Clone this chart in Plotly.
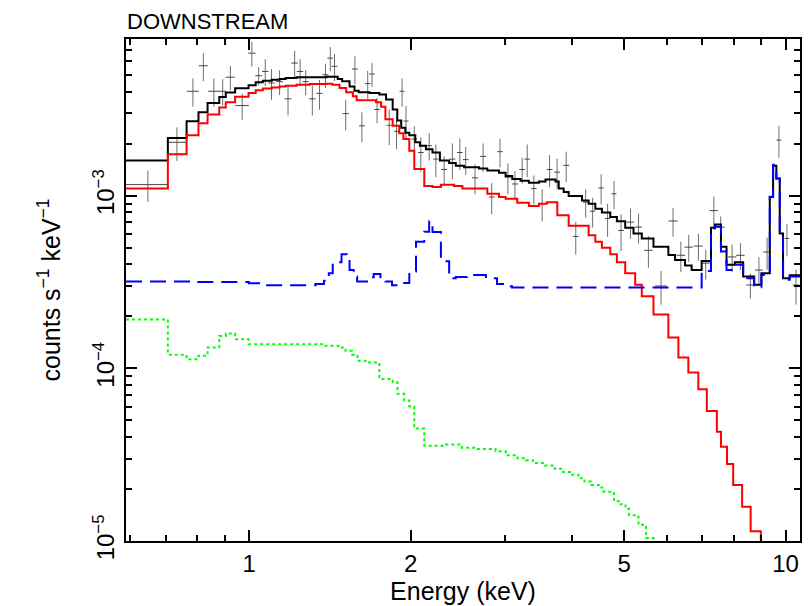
import plotly.graph_objects as go

# ---------------- data (counts s^-1 keV^-1) ----------------
data_energy = [0.647, 0.733, 0.785, 0.821, 0.859, 0.892, 0.922, 0.970, 1.011, 1.041,
               1.071, 1.100, 1.139, 1.181, 1.215, 1.244, 1.274, 1.311, 1.352, 1.387,
               1.416, 1.442, 1.513, 1.574, 1.622, 1.663, 1.694, 1.731, 1.824, 1.882,
               1.927, 1.960, 2.031, 2.089, 2.165, 2.228, 2.309, 2.392, 2.470, 2.533,
               2.636, 2.729, 2.832, 2.935, 3.036, 3.129, 3.228, 3.298, 3.394, 3.517,
               3.631, 3.750, 3.900, 4.063, 4.240, 4.368, 4.530, 4.658, 4.788, 4.935,
               5.14, 5.32, 5.55, 5.86, 6.17, 6.38, 6.60, 6.88, 7.10, 7.35,
               7.57, 7.95, 8.24, 8.60, 8.92, 9.24, 9.72, 10.06, 10.46]
data_energy_err = [0.058, 0.030, 0.020, 0.016, 0.021, 0.013, 0.018, 0.028, 0.016, 0.015,
                   0.015, 0.015, 0.017, 0.017, 0.017, 0.017, 0.017, 0.018, 0.018, 0.018,
                   0.018, 0.018, 0.020, 0.020, 0.020, 0.020, 0.020, 0.020, 0.020, 0.020,
                   0.020, 0.020, 0.025, 0.025, 0.025, 0.025, 0.030, 0.030, 0.030, 0.030,
                   0.035, 0.035, 0.035, 0.035, 0.040, 0.040, 0.040, 0.040, 0.040, 0.040,
                   0.045, 0.045, 0.050, 0.050, 0.050, 0.050, 0.050, 0.050, 0.050, 0.060,
                   0.08, 0.08, 0.10, 0.15, 0.12, 0.12, 0.12, 0.13, 0.13, 0.13,
                   0.13, 0.15, 0.15, 0.15, 0.15, 0.15, 0.10, 0.10, 0.15]
data_rate = [1.16e-3, 2.04e-3, 4.03e-3, 5.66e-3, 4.03e-3, 4.03e-3, 4.86e-3, 3.33e-3, 6.70e-3, 4.96e-3,
             5.25e-3, 4.50e-3, 4.58e-3, 3.64e-3, 5.87e-3, 5.25e-3, 4.58e-3, 3.64e-3, 3.92e-3, 5.02e-3,
             6.27e-3, 5.62e-3, 2.99e-3, 5.42e-3, 2.54e-3, 4.46e-3, 5.07e-3, 3.16e-3, 2.56e-3, 2.36e-3,
             4.03e-3, 2.71e-3, 2.13e-3, 1.78e-3, 1.95e-3, 1.63e-3, 1.42e-3, 1.63e-3, 1.78e-3, 1.62e-3,
             1.27e-3, 1.69e-3, 0.983e-3, 1.80e-3, 1.28e-3, 1.17e-3, 1.42e-3, 1.63e-3, 1.10e-3, 0.900e-3,
             1.42e-3, 1.37e-3, 1.50e-3, 0.581e-3, 0.918e-3, 0.814e-3, 1.11e-3, 0.738e-3, 1.027e-3, 0.629e-3,
             0.703e-3, 0.658e-3, 0.483e-3, 0.300e-3, 0.714e-3, 0.452e-3, 0.504e-3, 0.511e-3, 0.407e-3, 0.820e-3,
             0.658e-3, 0.442e-3, 0.452e-3, 0.304e-3, 0.371e-3, 0.472e-3, 2.10e-3, 0.566e-3, 0.304e-3]
data_rate_err = [0.24e-3, 0.45e-3, 0.75e-3, 1.05e-3, 0.75e-3, 0.70e-3, 0.78e-3, 0.58e-3, 1.10e-3, 0.60e-3,
                 0.93e-3, 0.92e-3, 0.75e-3, 0.72e-3, 1.05e-3, 0.93e-3, 0.76e-3, 0.72e-3, 0.77e-3, 0.80e-3,
                 1.00e-3, 1.00e-3, 0.60e-3, 1.00e-3, 0.50e-3, 0.83e-3, 0.80e-3, 0.53e-3, 0.60e-3, 0.50e-3,
                 0.75e-3, 0.60e-3, 0.40e-3, 0.40e-3, 0.35e-3, 0.35e-3, 0.27e-3, 0.38e-3, 0.37e-3, 0.30e-3,
                 0.25e-3, 0.32e-3, 0.20e-3, 0.34e-3, 0.26e-3, 0.22e-3, 0.24e-3, 0.35e-3, 0.21e-3, 0.19e-3,
                 0.30e-3, 0.27e-3, 0.30e-3, 0.125e-3, 0.17e-3, 0.16e-3, 0.22e-3, 0.16e-3, 0.19e-3, 0.15e-3,
                 0.14e-3, 0.13e-3, 0.10e-3, 0.066e-3, 0.135e-3, 0.09e-3, 0.09e-3, 0.09e-3, 0.08e-3, 0.17e-3,
                 0.10e-3, 0.08e-3, 0.08e-3, 0.05e-3, 0.07e-3, 0.10e-3, 0.44e-3, 0.12e-3, 0.07e-3]

# ---------------- total model (black), bin edges in keV ----------------
total_edges = [0.589, 0.705, 0.764, 0.804, 0.836, 0.879, 0.904, 0.941, 0.997, 1.028,
               1.060, 1.101, 1.139, 1.169, 1.225, 1.393, 1.462, 1.490, 1.538, 1.571,
               1.600, 1.675, 1.748, 1.799, 1.851, 1.888, 1.920, 1.954, 1.988, 2.040,
               2.081, 2.135, 2.196, 2.267, 2.359, 2.427, 2.515, 2.682, 2.779, 2.922,
               3.006, 3.093, 3.206, 3.322, 3.467, 3.568, 3.724, 3.776, 3.858, 3.941,
               4.173, 4.294, 4.419, 4.545, 4.712, 4.847, 5.024, 5.206, 5.395, 5.672,
               6.047, 6.223, 6.496, 6.683, 6.976, 7.261, 7.386, 7.579, 7.762, 8.045,
               8.337, 8.739, 9.016, 9.346, 9.480, 9.614, 9.755, 9.894, 10.18, 10.64]
total_model = [1.60e-3, 2.16e-3, 2.70e-3, 3.05e-3, 3.44e-3, 3.73e-3, 3.96e-3, 4.19e-3, 4.37e-3, 4.55e-3,
               4.64e-3, 4.70e-3, 4.75e-3, 4.81e-3, 4.85e-3, 4.89e-3, 4.75e-3, 4.60e-3, 4.30e-3, 4.06e-3,
               3.98e-3, 3.94e-3, 3.86e-3, 3.61e-3, 3.16e-3, 2.73e-3, 2.48e-3, 2.32e-3, 2.24e-3, 2.04e-3,
               1.95e-3, 1.86e-3, 1.78e-3, 1.60e-3, 1.55e-3, 1.49e-3, 1.46e-3, 1.44e-3, 1.40e-3, 1.36e-3,
               1.30e-3, 1.25e-3, 1.22e-3, 1.19e-3, 1.21e-3, 1.24e-3, 1.21e-3, 1.10e-3, 1.05e-3, 0.996e-3,
               0.940e-3, 0.900e-3, 0.842e-3, 0.799e-3, 0.754e-3, 0.712e-3, 0.652e-3, 0.605e-3, 0.566e-3, 0.507e-3,
               0.454e-3, 0.425e-3, 0.394e-3, 0.372e-3, 0.419e-3, 0.652e-3, 0.681e-3, 0.507e-3, 0.398e-3, 0.412e-3,
               0.341e-3, 0.305e-3, 0.356e-3, 0.983e-3, 1.49e-3, 1.26e-3, 0.605e-3, 0.333e-3, 0.346e-3]

# ---------------- source component (red) ----------------
src_edges = [0.589, 0.705, 0.764, 0.804, 0.836, 0.879, 0.904, 0.941, 0.997, 1.028,
             1.060, 1.101, 1.139, 1.169, 1.225, 1.296, 1.393, 1.429, 1.473, 1.516,
             1.560, 1.586, 1.723, 1.761, 1.794, 1.851, 1.904, 1.938, 1.988, 2.031,
             2.120, 2.196, 2.277, 2.410, 2.497, 2.779, 2.922, 3.006, 3.160, 3.322,
             3.467, 3.588, 3.753, 3.941, 4.294, 4.419, 4.545, 4.712, 4.847, 5.024,
             5.244, 5.395, 5.672, 6.047, 6.313, 6.588, 6.877, 7.133, 7.447, 7.579,
             7.779, 7.987, 8.300, 8.610, 8.994, 9.48]
src_model = [1.10e-3, 1.74e-3, 2.24e-3, 2.63e-3, 2.96e-3, 3.24e-3, 3.48e-3, 3.74e-3, 3.94e-3, 4.08e-3,
             4.18e-3, 4.23e-3, 4.29e-3, 4.34e-3, 4.40e-3, 4.44e-3, 4.46e-3, 4.40e-3, 4.21e-3, 3.98e-3,
             3.77e-3, 3.58e-3, 3.48e-3, 3.28e-3, 2.77e-3, 2.54e-3, 2.30e-3, 2.13e-3, 1.82e-3, 1.43e-3,
             1.137e-3, 1.122e-3, 1.157e-3, 1.137e-3, 1.10e-3, 1.027e-3, 0.983e-3, 0.961e-3, 0.912e-3, 0.873e-3,
             0.900e-3, 0.918e-3, 0.770e-3, 0.670e-3, 0.591e-3, 0.542e-3, 0.500e-3, 0.458e-3, 0.412e-3, 0.356e-3,
             0.305e-3, 0.262e-3, 0.205e-3, 0.151e-3, 0.1156e-3, 0.0948e-3, 0.0757e-3, 0.0566e-3, 0.0429e-3, 0.0352e-3,
             0.0279e-3, 0.0211e-3, 0.0158e-3, 0.0114e-3, 0.0080e-3]

# ---------------- line-rich component (blue dashed) ----------------
bkg_edges = [0.589, 0.784, 0.998, 1.073, 1.329, 1.378, 1.407, 1.431, 1.486, 1.522,
             1.538, 1.566, 1.589, 1.670, 1.706, 1.756, 1.794, 1.846, 1.945, 1.988,
             2.046, 2.120, 2.165, 2.196, 2.277, 2.359, 2.427, 2.547, 2.763, 2.897,
             3.010, 3.089, 6.976, 7.261, 7.386, 7.579, 7.762, 8.045, 8.337, 8.739,
             9.016, 9.346, 9.480, 9.614, 9.755, 9.894, 10.18, 10.64]
bkg_model = [0.319e-3, 0.316e-3, 0.311e-3, 0.303e-3, 0.308e-3, 0.322e-3, 0.356e-3, 0.412e-3, 0.458e-3, 0.434e-3,
             0.372e-3, 0.341e-3, 0.319e-3, 0.337e-3, 0.352e-3, 0.337e-3, 0.319e-3, 0.303e-3, 0.312e-3, 0.364e-3,
             0.542e-3, 0.619e-3, 0.712e-3, 0.617e-3, 0.418e-3, 0.333e-3, 0.338e-3, 0.348e-3, 0.333e-3, 0.308e-3,
             0.299e-3, 0.294e-3, 0.367e-3, 0.646e-3, 0.661e-3, 0.475e-3, 0.372e-3, 0.398e-3, 0.333e-3, 0.295e-3,
             0.348e-3, 0.987e-3, 1.51e-3, 1.26e-3, 0.621e-3, 0.326e-3, 0.341e-3]

# ---------------- soft component (green dotted) ----------------
soft_edges = [0.589, 0.705, 0.764, 0.804, 0.836, 0.879, 0.904, 0.941, 0.997, 1.387,
              1.467, 1.512, 1.555, 1.591, 1.647, 1.748, 1.851, 1.890, 1.945, 1.988,
              2.031, 2.120, 2.328, 2.491, 2.659, 2.879, 3.007, 3.164, 3.280, 3.380,
              3.553, 3.713, 3.849, 3.963, 4.110, 4.218, 4.340, 4.482, 4.579, 4.786,
              4.890, 5.031, 5.107, 5.258, 5.32, 5.493, 5.672, 5.92]
soft_model = [0.192e-3, 0.120e-3, 0.1131e-3, 0.1183e-3, 0.1321e-3, 0.154e-3, 0.159e-3, 0.1474e-3, 0.138e-3, 0.135e-3,
              0.132e-3, 0.1263e-3, 0.120e-3, 0.1107e-3, 0.1083e-3, 0.0868e-3, 0.0831e-3, 0.0712e-3, 0.0652e-3, 0.0602e-3,
              0.0448e-3, 0.0356e-3, 0.0362e-3, 0.0347e-3, 0.0341e-3, 0.0331e-3, 0.0314e-3, 0.0302e-3, 0.0294e-3, 0.0283e-3,
              0.0274e-3, 0.0262e-3, 0.0251e-3, 0.0242e-3, 0.0231e-3, 0.0221e-3, 0.0211e-3, 0.0204e-3, 0.0193e-3, 0.0170e-3,
              0.0163e-3, 0.0154e-3, 0.0141e-3, 0.0138e-3, 0.0124e-3, 0.0104e-3, 0.0083e-3]

x_tick_vals = [1, 2, 5, 10]
x_tick_text = ["1", "2", "5", "10"]
x_minor_vals = [0.6, 0.7, 0.8, 0.9, 3, 4, 6, 7, 8, 9]
y_tick_vals = [1e-5, 1e-4, 1e-3]
y_tick_text = ["10<sup>\u22125</sup>", "10<sup>\u22124</sup>", "10<sup>\u22123</sup>"]
y_minor_vals = [m * 10 ** e for e in (-5, -4, -3) for m in range(2, 10)]

FONT = "Liberation Sans, Arial, Helvetica, sans-serif"


def step(edges, vals):
    return edges, list(vals) + [vals[-1]]


fig = go.Figure()

fig.add_trace(go.Scatter(
    x=data_energy, y=data_rate, mode="markers",
    marker=dict(size=1, color="rgba(0,0,0,0)"),
    error_x=dict(type="data", array=data_energy_err, color="rgb(70,70,70)", thickness=1, width=0),
    error_y=dict(type="data", array=data_rate_err, color="rgb(110,110,110)", thickness=1, width=0),
    showlegend=False, hoverinfo="skip"))

sx, sy = step(total_edges, total_model)
fig.add_trace(go.Scatter(x=sx, y=sy, mode="lines", line=dict(color="black", width=2, shape="hv"),
                         showlegend=False))
sx, sy = step(src_edges, src_model)
fig.add_trace(go.Scatter(x=sx, y=sy, mode="lines", line=dict(color="#ff0000", width=2, shape="hv"),
                         showlegend=False))
sx, sy = step(soft_edges, soft_model)
fig.add_trace(go.Scatter(x=sx, y=sy, mode="lines",
                         line=dict(color="#00ff00", width=2, shape="hv", dash="3px,3px"),
                         showlegend=False))
sx, sy = step(bkg_edges, bkg_model)
fig.add_trace(go.Scatter(x=sx, y=sy, mode="lines",
                         line=dict(color="#0000ff", width=2, shape="hv", dash="16px,8px"),
                         showlegend=False))

# the page body adds an 8 px offset, so the figure is sized to end at the window edge
fig.update_layout(
    width=804, height=598,
    margin=dict(l=118, r=10, t=31, b=61),
    paper_bgcolor="white", plot_bgcolor="white",
    font=dict(family=FONT, size=22, color="black"),
    annotations=[dict(text="DOWNSTREAM", xref="paper", yref="paper", x=0, y=1,
                      xanchor="left", yanchor="bottom", yshift=4, borderpad=0, showarrow=False,
                      font=dict(family=FONT, size=22, color="black"))],
)

fig.update_xaxes(
    type="log", range=[-0.2299, 1.027],
    showline=True, linecolor="black", linewidth=2, mirror="ticks",
    ticks="inside", ticklen=11, tickwidth=1.5, tickcolor="black",
    tickmode="array", tickvals=x_tick_vals, ticktext=x_tick_text,
    tickfont=dict(size=24), showgrid=False, zeroline=False,
    minor=dict(ticks="inside", ticklen=6, tickwidth=1.5, tickcolor="black",
               tickmode="array", tickvals=x_minor_vals, showgrid=False),
    title=dict(text="Energy (keV)", font=dict(size=25), standoff=2),
)
fig.update_yaxes(
    type="log", range=[-5, -2.092],
    showline=True, linecolor="black", linewidth=2, mirror="ticks",
    ticks="inside", ticklen=11, tickwidth=1.5, tickcolor="black",
    tickmode="array", tickvals=y_tick_vals, ticktext=y_tick_text,
    tickangle=-90, tickfont=dict(size=24), showgrid=False, zeroline=False,
    minor=dict(ticks="inside", ticklen=6, tickwidth=1.5, tickcolor="black",
               tickmode="array", tickvals=y_minor_vals, showgrid=False),
    title=dict(text="counts s<sup>\u22121</sup> keV<sup>\u22121</sup>", font=dict(size=25), standoff=22),
)

fig.write_html("out.html")
